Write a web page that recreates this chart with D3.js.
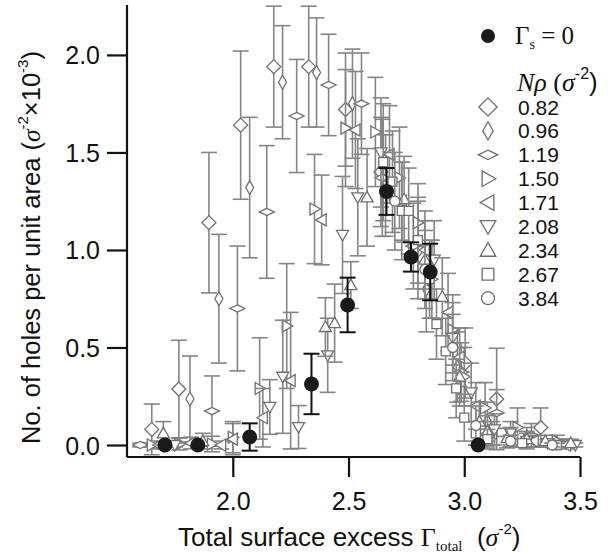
<!DOCTYPE html>
<html lang="en">
<head>
<meta charset="UTF-8">
<title>Holes per unit area</title>
<script src="https://cdnjs.cloudflare.com/ajax/libs/d3/7.8.5/d3.min.js"></script>
<style>
  body { margin: 0; background: #fff; }
  .tick text { font-family: "Liberation Sans", Arial, sans-serif; font-size: 25px; fill: #111; }
  .tick line, .domain { stroke: #111; stroke-width: 2.2px; }
</style>
</head>
<body>
<div id="wrapper"></div>
<script>
// data: each point is [surface excess, holes per area (1e-3), error]
const s082 = [[1.65,0.08,0.13],[1.767,0.287,0.25],[1.897,1.14,0.36],[2.034,1.64,0.38],[2.177,1.94,0.31],
  [2.328,1.94,0.31],[2.487,1.72,0.29],[2.64,1.40,0.28],[2.80,1.00,0.25],[3.004,0.42,0.18],[3.14,0.236,0.26],[3.33,0.09,0.10]]
const s096 = [[1.70,0.0,0.02],[1.815,0.236,0.22],[1.94,0.75,0.33],[2.073,1.32,0.36],[2.215,1.86,0.29],
  [2.362,1.91,0.28],[2.517,1.75,0.28],[2.66,1.33,0.26],[2.836,0.80,0.22],[2.97,0.40,0.18],[3.10,0.12,0.10],
  [3.27,0.04,0.05],[3.40,0.01,0.02]]
const s119 = [[1.60,0.0,0.01],[1.91,0.174,0.18],[2.02,0.70,0.32],[2.147,1.195,0.34],[2.276,1.687,0.29],
  [2.414,1.846,0.26],[2.556,1.75,0.26],[2.646,1.37,0.30],[2.78,1.02,0.22],[2.987,0.374,0.15],[3.14,0.164,0.12],
  [3.29,0.05,0.06],[3.42,0.01,0.02]]
const s150 = [[1.65,0.0,0.01],[1.77,0.005,0.03],[1.91,0.005,0.04],[2.00,0.04,0.08],[2.116,0.29,0.26],
  [2.233,0.61,0.32],[2.353,1.21,0.28],[2.487,1.625,0.30],[2.616,1.605,0.28],[2.72,1.37,0.26],[2.80,1.14,0.20],
  [2.86,0.85,0.20],[2.95,0.59,0.18],[3.00,0.35,0.15],[3.09,0.19,0.13],[3.23,0.09,0.10],[3.40,0.02,0.03]]
const s171 = [[1.68,0.0,0.02],[1.82,0.01,0.03],[1.95,0.0,0.02],[2.00,0.03,0.08],[2.13,0.14,0.15],
  [2.25,0.33,0.35],[2.384,1.154,0.23],[2.53,1.615,0.30],[2.677,1.49,0.25],[2.73,1.25,0.20],[2.83,1.00,0.20],
  [2.93,0.68,0.20],[2.98,0.45,0.15],[3.05,0.20,0.12],[3.12,0.06,0.06],[3.20,0.04,0.05],[3.30,0.02,0.03],[3.44,0.0,0.02]]
const s208 = [[1.75,0.0,0.01],[2.16,0.195,0.14],[2.216,0.35,0.29],[2.284,0.092,0.11],[2.41,0.46,0.19],
  [2.474,1.077,0.30],[2.54,1.27,0.30],[2.64,1.50,0.28],[2.87,0.95,0.20],[2.95,0.55,0.18],[3.03,0.27,0.15],
  [3.13,0.08,0.08],[3.20,0.06,0.06],[3.27,0.02,0.04],[3.36,0.01,0.02],[3.48,0.0,0.01]]
const s234 = [[1.70,0.06,0.06],[1.87,0.02,0.04],[2.40,0.605,0.15],[2.44,0.625,0.20],[2.51,0.82,0.12],
  [2.58,1.27,0.25],[2.74,1.26,0.22],[2.83,0.95,0.20],[2.905,0.76,0.20],[2.98,0.35,0.15],[3.065,0.12,0.10],
  [3.10,0.07,0.08],[3.185,0.035,0.05],[3.27,0.03,0.04],[3.35,0.02,0.03],[3.46,0.01,0.02]]
const s267 = [[2.65,1.45,0.30],[2.69,1.35,0.26],[2.73,1.20,0.25],[2.76,1.20,0.22],[2.80,1.05,0.22],
  [2.85,0.85,0.20],[2.88,0.62,0.18],[2.92,0.48,0.17],[2.965,0.29,0.15],[3.00,0.14,0.12],[3.05,0.06,0.06],
  [3.10,0.03,0.05],[3.25,0.01,0.02],[3.40,0.0,0.01]]
const s384 = [[2.70,1.25,0.25],[2.83,0.90,0.20],[2.95,0.50,0.17],[3.05,0.10,0.10],[3.20,0.02,0.03],[3.38,0.0,0.01]]
const noSurfactant = [[1.707,0.0,0.0],[1.849,0.0,0.0],[2.073,0.041,0.07],[2.34,0.313,0.155],[2.496,0.718,0.14],
  [2.664,1.30,0.12],[2.77,0.964,0.075],[2.853,0.887,0.145],[3.06,0.0,0.0]]

const densities = ['0.82','0.96','1.19','1.50','1.71','2.08','2.34','2.67','3.84']
const seriesData = [s082, s096, s119, s150, s171, s208, s234, s267, s384]
const shapes = ['diamond','thin','wide','right','left','down','up','square','circle']
const xTicks = [2.0, 2.5, 3.0, 3.5]
const yTicks = [0.0, 0.5, 1.0, 1.5, 2.0]

const width = 608, height = 558
const margin = {left: 127, right: 28, top: 5, bottom: 101}
const grey = '#858585', markGrey = '#6f6f6f'

const svg = d3.select('#wrapper').append('svg')
  .attr('width', width).attr('height', height)

const x = d3.scaleLinear().domain([1.543, 3.5]).range([margin.left, width - margin.right])
const y = d3.scaleLinear().domain([-0.0615, 2.256]).range([height - margin.bottom, margin.top])

// marker paths, centred on 0,0
function markerPath(shape, k) {
  const p = d3.path()
  const poly = pts => { p.moveTo(pts[0][0]*k, pts[0][1]*k); pts.slice(1).forEach(q => p.lineTo(q[0]*k, q[1]*k)); p.closePath() }
  if (shape === 'diamond') poly([[0,-7],[7,0],[0,7],[-7,0]])
  else if (shape === 'thin') poly([[0,-7],[4,0],[0,7],[-4,0]])
  else if (shape === 'wide') poly([[0,-3.6],[7.5,0],[0,3.6],[-7.5,0]])
  else if (shape === 'right') poly([[-4.5,-6],[6,0],[-4.5,6]])
  else if (shape === 'left') poly([[4.5,-6],[-6,0],[4.5,6]])
  else if (shape === 'down') poly([[-6,-4.5],[6,-4.5],[0,6]])
  else if (shape === 'up') poly([[-6,4.5],[6,4.5],[0,-6]])
  else if (shape === 'square') poly([[-4.5,-4.5],[4.5,-4.5],[4.5,4.5],[-4.5,4.5]])
  else p.arc(0, 0, 5*k, 0, 2*Math.PI)
  return p.toString()
}

svg.append('clipPath').attr('id', 'plot-clip').append('rect')
  .attr('x', margin.left).attr('y', 0)
  .attr('width', width - margin.left).attr('height', height - margin.bottom)

const plot = svg.append('g').attr('clip-path', 'url(#plot-clip)')
const cap = 8

function drawErrorBars(g, data, color, w) {
  const bars = g.selectAll('.eb').data(data.filter(d => d[2] > 0)).join('g').attr('class', 'eb')
    .attr('stroke', color).attr('stroke-width', w).attr('fill', 'none')
  bars.append('line')
    .attr('x1', d => x(d[0])).attr('x2', d => x(d[0]))
    .attr('y1', d => y(d[1] - d[2])).attr('y2', d => y(d[1] + d[2]))
  bars.append('line')
    .attr('x1', d => x(d[0]) - cap).attr('x2', d => x(d[0]) + cap)
    .attr('y1', d => y(d[1] + d[2])).attr('y2', d => y(d[1] + d[2]))
  bars.append('line')
    .attr('x1', d => x(d[0]) - cap).attr('x2', d => x(d[0]) + cap)
    .attr('y1', d => y(d[1] - d[2])).attr('y2', d => y(d[1] - d[2]))
}

seriesData.forEach((data, i) => {
  const g = plot.append('g').attr('class', 'series-' + densities[i])
  drawErrorBars(g, data, grey, 1.6)
  g.selectAll('.mk').data(data).join('path').attr('class', 'mk')
    .attr('transform', d => `translate(${x(d[0])},${y(d[1])})`)
    .attr('d', markerPath(shapes[i], 1))
    .attr('fill', '#fff').attr('stroke', markGrey).attr('stroke-width', 1.3)
})

const filled = plot.append('g')
drawErrorBars(filled, noSurfactant, '#111', 2)
filled.selectAll('circle').data(noSurfactant).join('circle')
  .attr('cx', d => x(d[0])).attr('cy', d => y(d[1])).attr('r', 7.5)
  .attr('fill', '#1a1a1a')

// axes
const xAxis = svg.append('g').attr('transform', `translate(0,${height - margin.bottom})`)
  .call(d3.axisBottom(x).tickValues(xTicks).tickFormat(d3.format('.1f')).tickSize(20).tickPadding(15).tickSizeOuter(0))
const yAxis = svg.append('g').attr('transform', `translate(${margin.left},0)`)
  .call(d3.axisLeft(y).tickValues(yTicks).tickFormat(d3.format('.1f')).tickSize(20).tickPadding(7).tickSizeOuter(0))
xAxis.select('.domain').attr('d', `M${margin.left},0H${x(3.5)}`)
yAxis.select('.domain').attr('d', `M0,${margin.top}V${height - margin.bottom}`)
yAxis.selectAll('.tick text').attr('dy', '0.36em')

// axis titles
const xt = svg.append('text').attr('x', 178).attr('y', 546)
  .style('font-family', '"Liberation Sans", Arial, sans-serif').style('font-size', '26px').attr('fill', '#111')
xt.append('tspan').text('Total surface excess ')
xt.append('tspan').style('font-family', '"Liberation Serif", serif').text('Γ')
xt.append('tspan').style('font-family', '"Liberation Serif", serif').style('font-size', '15px').attr('dy', 5).text('total')
xt.append('tspan').attr('dy', -5).text('\u00a0\u00a0(')
xt.append('tspan').style('font-family', '"Liberation Serif", serif').style('font-style', 'italic').text('σ')
xt.append('tspan').style('font-size', '15px').attr('dy', -12).text('-2')
xt.append('tspan').attr('dy', 12).text(')')

const yt = svg.append('text').attr('transform', 'translate(40,444) rotate(-90)')
  .style('font-family', '"Liberation Sans", Arial, sans-serif').style('font-size', '25.5px').attr('fill', '#111')
yt.append('tspan').text('No. of holes per unit area (')
yt.append('tspan').style('font-family', '"Liberation Serif", serif').style('font-style', 'italic').text('σ')
yt.append('tspan').style('font-size', '15px').attr('dy', -12).text('-2')
yt.append('tspan').attr('dy', 12).text('×10')
yt.append('tspan').style('font-size', '15px').attr('dy', -12).text('-3')
yt.append('tspan').attr('dy', 12).text(')')

// legend
const legend = svg.append('g')
legend.append('circle').attr('cx', 488).attr('cy', 36).attr('r', 7).attr('fill', '#1a1a1a')
const lt = legend.append('text').attr('x', 515).attr('y', 44)
  .style('font-family', '"Liberation Serif", serif').style('font-size', '25px').attr('fill', '#111')
lt.append('tspan').text('Γ')
lt.append('tspan').style('font-size', '14px').attr('dy', 5).text('s')
lt.append('tspan').attr('dy', -5).text(' = 0')

const nt = legend.append('text').attr('x', 517).attr('y', 91)
  .style('font-family', '"Liberation Serif", serif').style('font-size', '26px').attr('fill', '#111')
nt.append('tspan').style('font-style', 'italic').text('Nρ')
nt.append('tspan').text(' (')
nt.append('tspan').style('font-style', 'italic').text('σ')
nt.append('tspan').style('font-family', '"Liberation Sans", Arial, sans-serif').style('font-size', '16px').attr('dy', -12).text('-2')
nt.append('tspan').style('font-family', '"Liberation Sans", Arial, sans-serif').attr('dy', 12).text(')')

const rows = legend.selectAll('.row').data(densities).join('g').attr('class', 'row')
  .attr('transform', (d, i) => `translate(0,${107 + i * 23.9})`)
rows.append('path').attr('transform', 'translate(488,0)')
  .attr('d', (d, i) => markerPath(shapes[i], 1.3))
  .attr('fill', '#fff').attr('stroke', markGrey).attr('stroke-width', 1.3)
rows.append('text').attr('x', 518).attr('dy', '0.36em').text(d => d)
  .style('font-family', '"Liberation Sans", Arial, sans-serif').style('font-size', '21px').attr('fill', '#111')
</script>
</body>
</html>
